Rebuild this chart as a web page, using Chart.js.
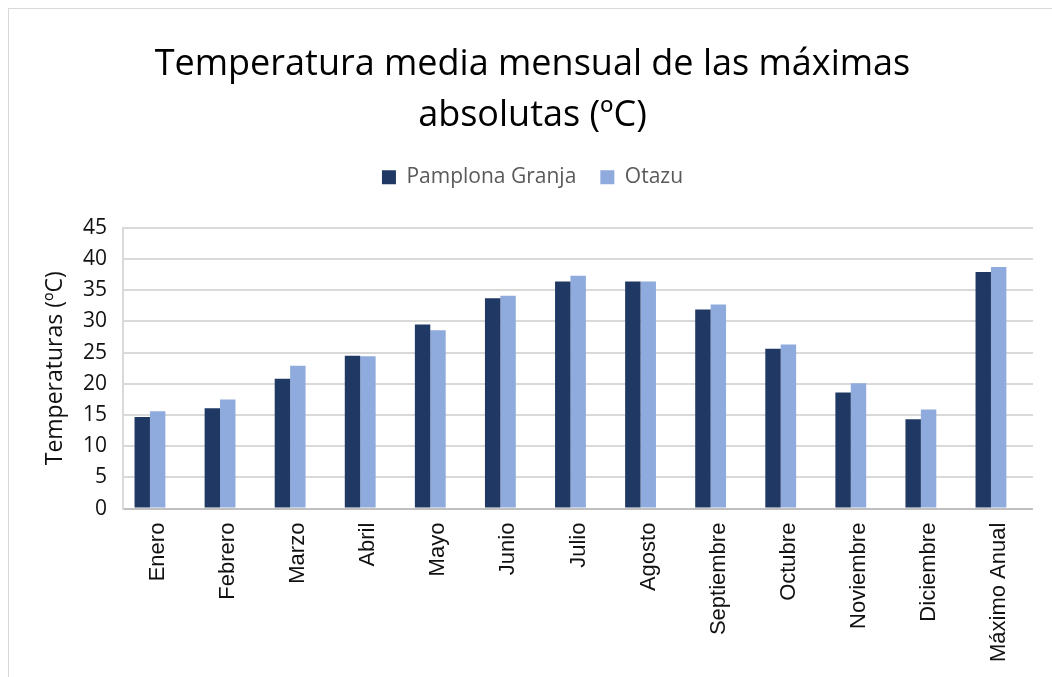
<!DOCTYPE html>
<html lang="es">
<head>
  <meta charset="UTF-8">
  <title>Temperatura media mensual de las máximas absolutas</title>
  <script src="https://cdn.jsdelivr.net/npm/chart.js"></script>
  <style>
    html, body {
      margin: 0;
      padding: 0;
      background: #fff;
      overflow: hidden;
    }
    .wrap {
      position: relative;
      width: 1052px;
      height: 677px;
    }
    /* thin frame around the chart area */
    .frame {
      position: absolute;
      left: 8px;
      top: 8px;
      width: 1100px;
      height: 700px;
      border: 1px solid #d9d9d9;
      pointer-events: none;
    }
    #tempChart {
      position: absolute;
      left: 0;
      top: 0;
    }
  </style>
</head>
<body>
<div class="wrap">
  <div class="frame"></div>
  <canvas id="tempChart" width="1052" height="677"></canvas>
</div>

<script>
  // Meses + máximo anual
  var meses = ['Enero', 'Febrero', 'Marzo', 'Abril', 'Mayo', 'Junio', 'Julio',
    'Agosto', 'Septiembre', 'Octubre', 'Noviembre', 'Diciembre', 'Máximo Anual'];

  // Temperatura media de las máximas absolutas (ºC)
  var pamplonaGranja = [14.7, 16.1, 20.8, 24.5, 29.5, 33.7, 36.4, 36.4, 31.9, 25.6, 18.6, 14.3, 37.9];
  var otazu = [15.6, 17.5, 22.9, 24.4, 28.6, 34.1, 37.3, 36.4, 32.7, 26.3, 20.1, 15.9, 38.7];

  var yMin = 0, yMax = 45, yStep = 5;

  // extra space between the legend and the plot
  var legendGap = {
    id: 'legendGap',
    beforeInit: function(chart) {
      var origFit = chart.legend.fit;
      chart.legend.fit = function() {
        origFit.bind(chart.legend)();
        this.height += 30;
      };
    }
  };

  // gridlines and the left axis line sit a little to the right of the bar groups
  var shiftGrid = {
    id: 'shiftGrid',
    afterLayout: function(chart) {
      var a = chart.chartArea;
      a.left += 8;
      a.right += 7;
      a.width = a.right - a.left;
      chart.scales.y.right += 8;
    }
  };

  var ctx = document.getElementById('tempChart').getContext('2d');
  var chart = new Chart(ctx, {
    type: 'bar',
    data: {
      labels: meses,
      datasets: [{
        label: 'Pamplona Granja',
        data: pamplonaGranja,
        backgroundColor: '#203864',
        categoryPercentage: 0.44,
        barPercentage: 1.0
      }, {
        label: 'Otazu',
        data: otazu,
        backgroundColor: '#8faadc',
        categoryPercentage: 0.44,
        barPercentage: 1.0
      }]
    },
    options: {
      responsive: false,
      animation: false,
      layout: {
        padding: { left: 39, right: 26, top: 40, bottom: 1 }
      },
      plugins: {
        title: {
          display: true,
          text: ['Temperatura media mensual de las máximas', 'absolutas (ºC)'],
          color: '#000',
          font: { family: 'Open Sans', size: 36, weight: 'normal', lineHeight: 1.4 },
          padding: { top: 0, bottom: 2 }
        },
        legend: {
          position: 'top',
          labels: {
            color: '#595959',
            font: { family: 'Open Sans', size: 21 },
            boxWidth: 14,
            boxHeight: 14,
            padding: 24
          }
        },
        tooltip: { enabled: false }
      },
      scales: {
        x: {
          grid: { display: false, drawTicks: false },
          border: { display: false },
          ticks: {
            color: '#111',
            font: { family: 'Liberation Sans', size: 22 },
            minRotation: 90,
            maxRotation: 90,
            autoSkip: false,
            labelOffset: 8,
            padding: 14
          }
        },
        y: {
          min: yMin,
          max: yMax,
          grid: {
            color: function(c) { return c.tick && c.tick.value === 0 ? '#bfbfbf' : '#d9d9d9'; },
            lineWidth: 2,
            drawTicks: false
          },
          border: { display: true, color: '#d9d9d9', width: 2 },
          ticks: {
            stepSize: yStep,
            color: '#111',
            font: { family: 'Open Sans', size: 21 },
            padding: 16
          },
          title: {
            display: true,
            text: 'Temperaturas (ºC)',
            color: '#111',
            font: { family: 'Open Sans', size: 23, lineHeight: 0.3 },
            padding: { top: 13, bottom: 0 }
          }
        }
      }
    },
    plugins: [legendGap, shiftGrid]
  });
</script>
</body>
</html>
